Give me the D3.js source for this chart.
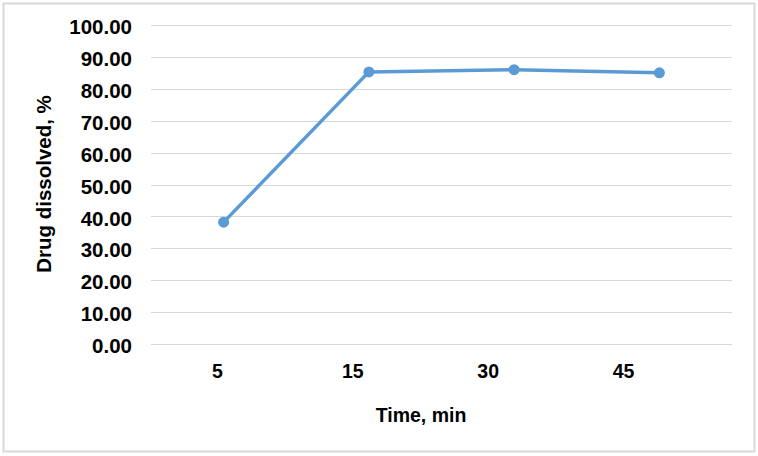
<!DOCTYPE html>
<html>
<head>
<meta charset="utf-8">
<script src="https://d3js.org/d3.v7.min.js"></script>
<style>
  body { margin: 0; background: #fff; }
  text { font-family: "Liberation Sans", Arial, sans-serif; font-weight: bold; fill: #000; }
</style>
</head>
<body>
<script>
// data
var times = ['5', '15', '30', '45'];
var dissolved = [38.2, 85.3, 86.0, 85.0];
var yTicks = [0, 10, 20, 30, 40, 50, 60, 70, 80, 90, 100];

var W = 758, H = 456;
var margin = {top: 25, right: 26, bottom: 112, left: 151};

var svg = d3.select('body').append('svg')
    .attr('width', W)
    .attr('height', H);

// chart border
svg.append('rect')
    .attr('x', 3.5).attr('y', 3.5)
    .attr('width', 751).attr('height', 448)
    .attr('fill', '#fff')
    .attr('stroke', '#d9d9d9')
    .attr('stroke-width', 2);

var x = d3.scaleBand()
    .domain(times)
    .range([margin.left, W - margin.right]);

// tick labels sit a little left of the points in the original
var xLab = d3.scalePoint()
    .domain(times)
    .range([217, 623]);

var y = d3.scaleLinear()
    .domain([0, 100])
    .range([H - margin.bottom, margin.top]);

// gridlines
svg.append('g')
    .selectAll('line')
    .data(yTicks)
    .join('line')
    .attr('x1', margin.left)
    .attr('x2', W - margin.right)
    .attr('y1', d => Math.round(y(d)) + 0.5)
    .attr('y2', d => Math.round(y(d)) + 0.5)
    .attr('stroke', '#d9d9d9')
    .attr('stroke-width', 1);

// y axis labels
var yAxis = svg.append('g')
    .attr('transform', 'translate(' + (margin.left - 19) + ',0)')
    .call(d3.axisLeft(y).tickValues(yTicks).tickFormat(d3.format('.2f')).tickSize(0).tickPadding(0));
yAxis.select('.domain').remove();
yAxis.selectAll('text')
    .attr('font-size', 20.5)
    .attr('dy', '0.42em')
    .style('font-family', '"Liberation Sans", Arial, sans-serif');

// x axis labels
var xAxis = svg.append('g')
    .attr('transform', 'translate(0,' + 364 + ')')
    .call(d3.axisBottom(xLab).tickSize(0).tickPadding(0));
xAxis.select('.domain').remove();
xAxis.selectAll('text')
    .attr('font-size', 19.5)
    .attr('dy', '0.72em')
    .style('font-family', '"Liberation Sans", Arial, sans-serif');

// line + markers
var pts = times.map((t, i) => ({t: t, v: dissolved[i]}));
var line = d3.line()
    .x(d => x(d.t) + x.bandwidth() / 2)
    .y(d => y(d.v));

svg.append('path')
    .datum(pts)
    .attr('d', line)
    .attr('fill', 'none')
    .attr('stroke', '#5b9bd5')
    .attr('stroke-width', 3.5)
    .attr('stroke-linejoin', 'round');

svg.append('g')
    .selectAll('circle')
    .data(pts)
    .join('circle')
    .attr('cx', d => x(d.t) + x.bandwidth() / 2)
    .attr('cy', d => y(d.v))
    .attr('r', 5.5)
    .attr('fill', '#5b9bd5');

// axis titles
svg.append('text')
    .attr('x', 421)
    .attr('y', 422)
    .attr('text-anchor', 'middle')
    .attr('font-size', 19.5)
    .text('Time, min');

svg.append('text')
    .attr('transform', 'translate(51,184) rotate(-90)')
    .attr('text-anchor', 'middle')
    .attr('font-size', 20.5)
    .text('Drug dissolved, %');
</script>
</body>
</html>
